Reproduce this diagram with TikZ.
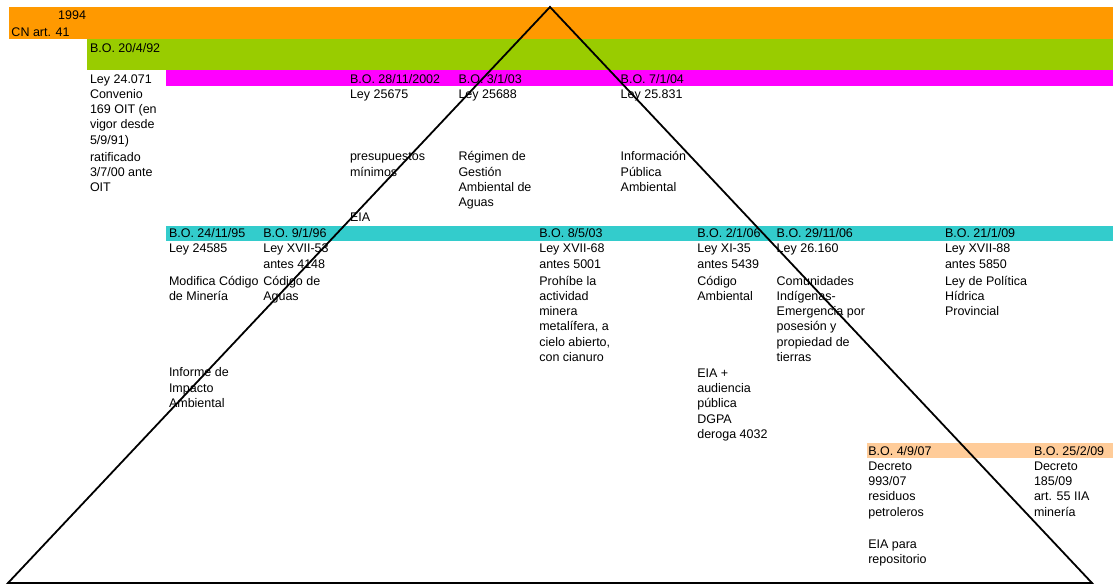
\documentclass[tikz,border=0pt]{standalone}
\usepackage{fontspec}
\setmainfont{Liberation Sans}
\definecolor{cOrange}{HTML}{FF9900}
\definecolor{cGreen}{HTML}{99CC00}
\definecolor{cMagenta}{HTML}{FF00FF}
\definecolor{cCyan}{HTML}{33CCCC}
\definecolor{cPeach}{HTML}{FFCC99}
\newcommand\txtblk[1]{\begin{tabular}[t]{@{}l@{}}#1\end{tabular}}
\begin{document}
\begin{tikzpicture}[x=1pt,y=-1pt,
  lbl/.style={anchor=base west,inner sep=0pt,outer sep=0pt,font=\fontsize{12.5}{15.3}\selectfont},
  tri/.style={draw=black,line width=1.8pt,line join=miter}]
\useasboundingbox[fill=white] (0,0) rectangle (1113,586);
% bands
\fill[cOrange] (9,7) rectangle (1113,39);
\fill[cGreen] (87,39) rectangle (1113,70);
\fill[cMagenta] (166,70) rectangle (1113,86);
\fill[cCyan] (166,225.5) rectangle (1113,241);
\fill[cPeach] (867,442.5) rectangle (1113,457.5);
% top rows
\node[lbl,anchor=base east] (y1994) at (86,19.5) {1994};
\node[lbl] (cn) at (11.5,36.7) {CN art. 41};
\node[lbl] (bo92) at (90,52.3) {B.O. 20/4/92};
\node[lbl] (ley24071) at (90,83) {\txtblk{Ley 24.071\\Convenio\\169 OIT (en\\vigor desde\\5/9/91)}};
\node[lbl] (ratif) at (90,161) {\txtblk{ratificado\\3/7/00 ante\\OIT}};
% magenta row
\node[lbl] (bo02) at (350,83) {B.O. 28/11/2002};
\node[lbl] (l25675) at (350,98) {Ley 25675};
\node[lbl] (presu) at (350,160.7) {\txtblk{presupuestos\\mínimos}};
\node[lbl] (eia1) at (350,221.7) {EIA};
\node[lbl] (bo03) at (458.5,83) {B.O. 3/1/03};
\node[lbl] (l25688) at (458.5,98) {Ley 25688};
\node[lbl] (regimen) at (458.5,160.7) {\txtblk{Régimen de\\Gestión\\Ambiental de\\Aguas}};
\node[lbl] (bo04) at (620.7,83) {B.O. 7/1/04};
\node[lbl] (l25831) at (620.7,98) {Ley 25.831};
\node[lbl] (info) at (620.7,160.7) {\txtblk{Información\\Pública\\Ambiental}};
% cyan row
\node[lbl] (bo95) at (169,237.3) {B.O. 24/11/95};
\node[lbl] (l24585) at (169,252.7) {Ley 24585};
\node[lbl] (modif) at (169,285) {\txtblk{Modifica Código\\de Minería}};
\node[lbl] (informe) at (169,376.7) {\txtblk{Informe de\\Impacto\\Ambiental}};
\node[lbl] (bo96) at (263.3,237.3) {B.O. 9/1/96};
\node[lbl] (l53) at (263.3,252.7) {\txtblk{Ley XVII-53\\antes 4148}};
\node[lbl] (codag) at (263.3,285) {\txtblk{Código de\\Aguas}};
\node[lbl] (bo0503) at (539.3,237.3) {B.O. 8/5/03};
\node[lbl] (l68) at (539.3,252.7) {\txtblk{Ley XVII-68\\antes 5001}};
\node[lbl] (prohibe) at (539.3,285) {\txtblk{Prohíbe la\\actividad\\minera\\metalífera, a\\cielo abierto,\\con cianuro}};
\node[lbl] (bo06) at (697.3,237.3) {B.O. 2/1/06};
\node[lbl] (l35) at (697.3,252.7) {\txtblk{Ley XI-35\\antes 5439}};
\node[lbl] (codamb) at (697.3,285) {\txtblk{Código\\Ambiental}};
\node[lbl] (eia2) at (697.3,377.3) {\txtblk{EIA +\\audiencia\\pública\\DGPA\\deroga 4032}};
\node[lbl] (bo2906) at (776.7,237.3) {B.O. 29/11/06};
\node[lbl] (l26160) at (776.7,252.7) {Ley 26.160};
\node[lbl] (comun) at (776.7,285) {\txtblk{Comunidades\\Indígenas-\\Emergencia por\\posesión y\\propiedad de\\tierras}};
\node[lbl] (bo09) at (945,237.3) {B.O. 21/1/09};
\node[lbl] (l88) at (945,252.7) {\txtblk{Ley XVII-88\\antes 5850}};
\node[lbl] (politica) at (945,285) {\txtblk{Ley de Política\\Hídrica\\Provincial}};
% peach row
\node[lbl] (bo07) at (868.3,455) {B.O. 4/9/07};
\node[lbl] (dec993) at (868.3,470.3) {\txtblk{Decreto\\993/07\\residuos\\petroleros}};
\node[lbl] (eia3) at (868.3,548.3) {\txtblk{EIA para\\repositorio}};
\node[lbl] (bo2509) at (1034,455) {B.O. 25/2/09};
\node[lbl] (dec185) at (1034,470.3) {\txtblk{Decreto\\185/09\\art. 55 IIA\\minería}};
% triangle
\coordinate (apex) at (550,7);
\coordinate (bl) at (8,583);
\coordinate (br) at (1092,583);
\draw[tri] (bl) -- (apex) -- (br) -- cycle;
\end{tikzpicture}
\end{document}
